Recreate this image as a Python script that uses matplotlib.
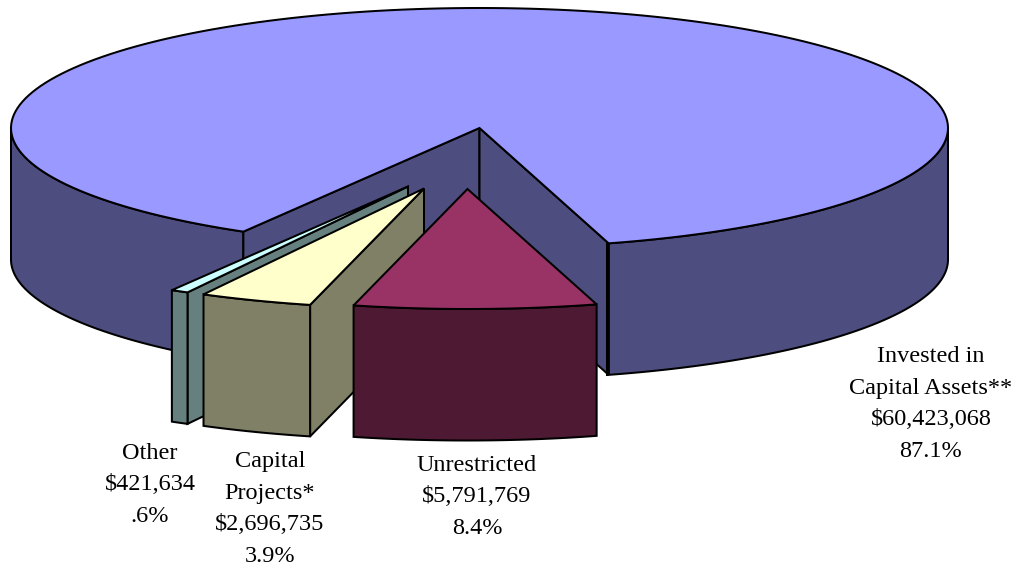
import numpy as np
import matplotlib
matplotlib.use("Agg")
import matplotlib.pyplot as plt
from matplotlib.patches import Polygon

names = ["Invested in\nCapital Assets**", "Unrestricted", "Capital\nProjects*", "Other"]
amounts = [60423068, 5791769, 2696735, 421634]
percent_labels = ["87.1%", "8.4%", "3.9%", ".6%"]

top_colors = ["#9999ff", "#993366", "#ffffcc", "#ccffff"]
side_colors = ["#4d4d80", "#4d1933", "#808066", "#668080"]

# where the tip of each slice ends up on the page (exploded pie)
tips = [(479.5, 128), (467.5, 189), (424, 188.5), (408, 186.5)]
label_pos = [(931, 404), (477, 497), (270, 509), (150, 485)]

RX, RY = 468.5, 120
DEPTH = 131.5
START = 286
LW = 1.45

fig = plt.figure(figsize=(10.17, 5.67), dpi=100)
ax = fig.add_axes([0, 0, 1, 1])
ax.set_xlim(0, 1017)
ax.set_ylim(567, 0)
ax.axis("off")


def arc(tip, a0, a1, drop=0):
    t = np.radians(np.linspace(a0, a1, 200))
    return np.column_stack([tip[0] + RX * np.cos(t), tip[1] - RY * np.sin(t) + drop])


def face(pts, color):
    ax.add_patch(Polygon(pts, closed=True, facecolor=color, edgecolor="black",
                         linewidth=LW, joinstyle="miter"))


def outer_side(tip, a0, a1, color):
    face(np.vstack([arc(tip, a0, a1), arc(tip, a1, a0, DEPTH)]), color)


def cut_wall(tip, angle, color):
    edge = arc(tip, angle, angle)[0]
    face([tip, edge, (edge[0], edge[1] + DEPTH), (tip[0], tip[1] + DEPTH)], color)


angles = np.array(amounts) / sum(amounts) * 360
ends = START - np.cumsum(angles[1:])
starts = np.concatenate([[START], ends[:-1]])

# big slice wraps round the back, from START to the end of Other
tip = tips[0]
outer_side(tip, START, 360, side_colors[0])
outer_side(tip, 180, ends[-1], side_colors[0])
cut_wall(tip, ends[-1], side_colors[0])
cut_wall(tip, START, side_colors[0])
corner = arc(tip, START, START)[0]
ax.plot([corner[0] - 2, corner[0] - 2], [corner[1], corner[1] + DEPTH], color="black", lw=LW)
face(np.vstack([[tip], arc(tip, START, ends[-1] + 360)]), top_colors[0])

# small slices, back to front
for i in [3, 2, 1]:
    a_hi, a_lo = starts[i - 1], ends[i - 1]
    tip = tips[i]
    if i > 1:
        cut_wall(tip, a_hi, side_colors[i])
    outer_side(tip, a_lo, a_hi, side_colors[i])
    face(np.vstack([[tip], arc(tip, a_lo, a_hi)]), top_colors[i])

for i in range(4):
    txt = f"{names[i]}\n${amounts[i]:,}\n{percent_labels[i]}"
    ax.text(label_pos[i][0], label_pos[i][1], txt, ha="center", va="center", multialignment="center",
            family="Liberation Serif", fontsize=17.5, linespacing=1.65, color="black")

plt.savefig("out.png", dpi=100)
